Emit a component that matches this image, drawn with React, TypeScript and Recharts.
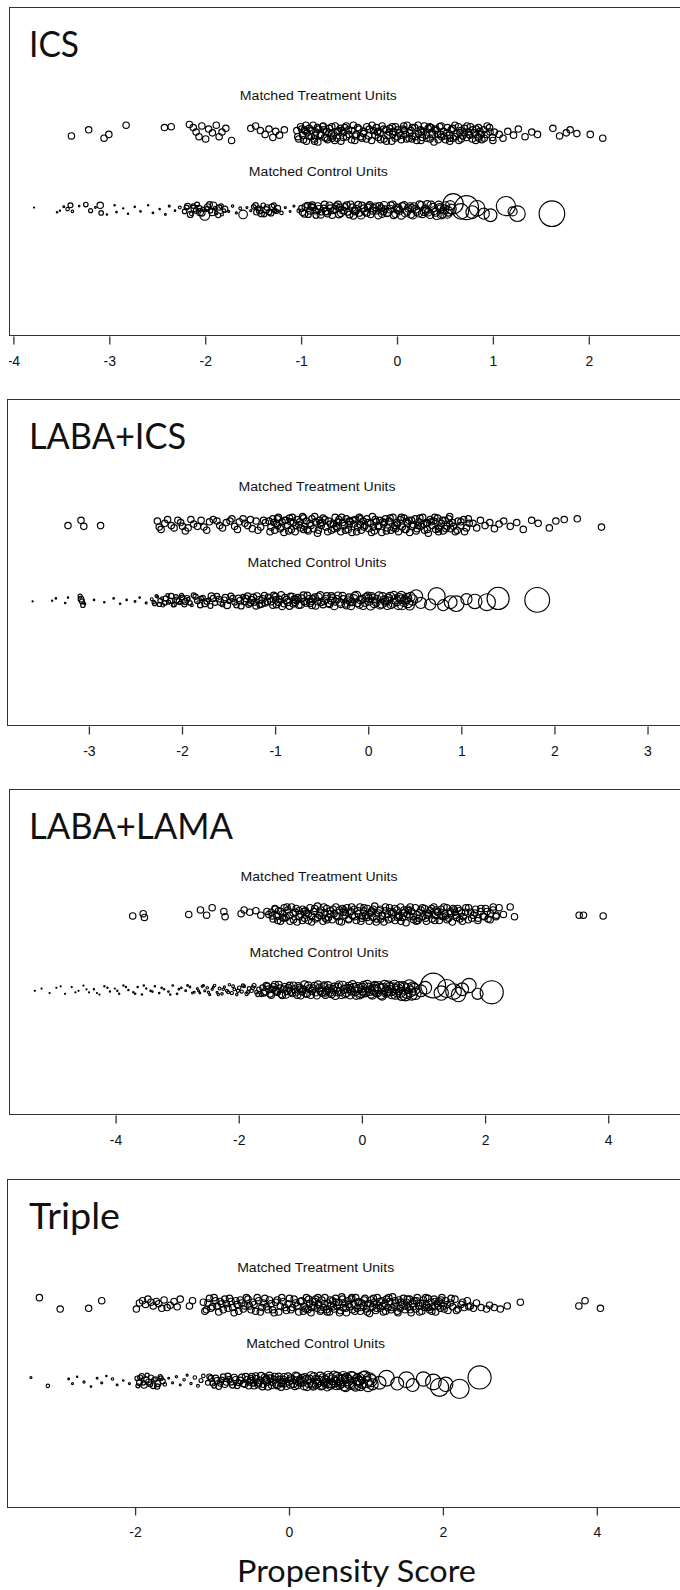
import { ScatterChart, Scatter, XAxis, YAxis, ReferenceDot } from 'recharts';

// [propensity score, vertical jitter (hundredths)] for treated; control also carries its matching weight
type Pt = [number, number];
type WPt = [number, number, number];

const icsTreated: Pt[] = [
  [-3.40,-3],[-3.22,5],[-3.06,-6],[-3.01,-1],[-2.83,11],[-2.43,8],[-2.36,9],
  [-2.17,12],[-2.13,8],[-2.10,2],[-2.07,-4],[-2.04,10],[-2.00,-7],[-1.97,6],[-1.93,1],[-1.89,11],[-1.86,-4],[-1.83,2],[-1.79,7],[-1.73,-9],
  [-1.53,7],[-1.48,10],[-1.43,4],[-1.38,-1],[-1.34,6],[-1.30,-5],[-1.27,3],[-1.23,-2],[-1.18,5],
  [-1.05,4],[-1.03,-7],[-1.01,9],[-0.99,-2],[-0.97,5],[-0.95,-10],[-0.94,1],[-0.92,7],[-0.90,-4],[-0.88,11],[-0.87,-7],[-0.85,2],[-0.83,-11],[-0.82,6],[-0.80,-1],[-0.78,9],[-0.76,-5],[-0.74,3],[-0.73,-8],[-0.71,7],[-0.69,0],[-0.67,-3],[-0.65,10],[-0.63,-6],[-0.61,4],[-0.59,-10],[-0.57,1],[-0.55,8],[-0.53,-4],[-0.51,5],[-0.48,-8],[-0.46,11],[-0.43,-1],[-0.40,6],[-0.37,-6],[-0.35,3],[-0.32,9],[-0.30,-3],[-0.27,-9],[-0.25,4],[-0.22,8],[-0.20,-5],[-0.18,1],[-0.16,10],[-0.14,-7],[-0.12,5],[-0.10,-2],[-0.08,7],[-0.06,-10],[-0.04,3],[-0.02,9],
  [0.00,-4],[0.02,1],[0.04,-8],[0.06,6],[0.08,-1],[0.10,11],[0.12,-6],[0.14,4],[0.16,-3],[0.18,8],[0.20,-9],[0.22,0],[0.24,5],[0.26,-5],[0.28,10],[0.30,-2],[0.32,7],[0.34,-7],[0.36,2],[0.38,-11],[0.40,6],[0.42,-1],[0.44,9],[0.46,-4],[0.48,3],[0.50,-8],[0.52,8],[0.54,-2],[0.56,5],[0.58,-6],[0.60,11],[0.62,0],[0.64,-9],[0.66,4],[0.68,-3],[0.70,7],[0.72,-5],[0.74,2],[0.76,9],[0.78,-7],[0.80,1],[0.82,6],[0.84,-4],[0.86,3],[0.88,-8],[0.90,5],[0.93,-1],[0.96,8],[0.99,-5],[1.01,2],
  [-0.96,3],[-0.86,-2],[-0.77,5],[-0.68,-6],[-0.58,4],[-0.44,-3],[-0.21,2],[-0.05,-1],[0.07,4],[0.15,-7],[0.25,2],[0.35,8],[0.45,-1],[0.55,-6],[0.65,1],[0.75,-1],[0.85,-6],
  [-1.04,-4],[-1.00,6],[-0.98,-8],[-0.955,11],[-0.925,-3],[-0.895,4],[-0.865,-10],[-0.835,8],[-0.805,-2],[-0.775,10],[-0.745,-6],[-0.715,1],[-0.685,9],[-0.655,-9],[-0.625,3],[-0.595,7],[-0.565,-5],[-0.535,10],[-0.505,-1],[-0.475,4],[-0.445,-9],[-0.415,8],[-0.385,-4],[-0.355,0],[-0.325,-7],[-0.295,6],[-0.265,11],[-0.235,-2],[-0.205,3],[-0.175,-8],[-0.145,6],[-0.115,-10],[-0.085,2],[-0.055,9],[-0.025,-6],
  [0.005,5],[0.035,-2],[0.065,10],[0.095,-7],[0.125,1],[0.155,8],[0.185,-4],[0.215,11],[0.245,-9],[0.275,3],[0.305,-6],[0.335,9],[0.365,-1],[0.395,4],[0.425,-8],[0.455,10],[0.485,-3],[0.515,1],[0.545,-10],[0.575,7],[0.605,-4],[0.635,9],[0.665,-7],[0.695,1],[0.725,10],[0.755,-2],[0.785,5],[0.815,-9],[0.845,8],[0.875,-1],[0.905,-6],[0.935,10],[0.965,2],[0.995,-9],
  [1.06,-1],[1.10,-6],[1.15,3],[1.21,-2],[1.26,6],[1.33,-4],[1.40,2],[1.46,-1],[1.62,7],[1.69,-3],[1.76,1],[1.80,5],[1.87,0],[2.01,-1],[2.14,-6],
];

const icsControl: WPt[] = [
  [-3.79,3,0.03],[-3.55,-3,0.05],[-3.52,-1,0.04],[-3.48,4,0.08],[-3.44,1,0.3],[-3.41,6,0.6],[-3.39,-2,0.15],[-3.32,5,0.06],[-3.25,7,0.5],[-3.20,-1,0.4],[-3.15,3,0.08],[-3.10,6,1.0],[-3.09,-4,0.5],[-3.03,-6,0.05],[-2.95,6,0.05],[-2.93,-3,0.06],[-2.86,2,0.04],[-2.81,-5,0.05],[-2.74,4,0.05],[-2.68,-2,0.06],[-2.60,6,0.05],[-2.55,-4,0.07],[-2.48,1,0.05],[-2.42,-6,0.08],[-2.38,5,0.1],[-2.32,-1,0.06],[-2.27,3,0.2],
  [-2.22,-2,0.5],[-2.19,5,0.8],[-2.15,-5,0.3],[-2.12,2,1.0],[-2.09,7,0.6],[-2.06,-3,1.2],[-2.03,1,0.4],[-2.01,-7,2.5],[-1.98,4,0.9],[-1.95,-1,0.5],[-1.92,6,1.1],[-1.89,-4,0.3],[-1.86,3,0.7],[-1.83,-6,0.2],[-1.80,1,0.9],[-1.76,-2,0.1],[-1.72,5,0.15],[-1.68,-4,0.1],[-1.64,2,0.2],[-1.61,-6,1.8],
  [-2.20,3,0.6],[-2.16,-6,0.9],[-2.13,5,0.5],[-2.10,-1,0.7],[-2.07,2,0.9],[-2.04,-4,1.0],[-1.99,1,0.6],[-1.96,7,0.8],[-1.93,-3,1.2],[-1.90,2,0.4],[-1.87,-7,0.6],[-1.84,5,0.5],[-1.81,-1,0.3],
  [-1.57,3,0.1],[-1.53,-1,0.1],[-1.50,4,0.5],[-1.47,-3,0.8],[-1.45,2,0.6],[-1.42,-5,0.9],[-1.40,6,0.5],[-1.37,0,1.0],[-1.34,-3,0.7],[-1.31,4,0.8],[-1.28,-1,0.5],[-1.25,2,0.9],[-1.21,-4,0.3],[-1.17,3,0.1],[-1.12,-2,0.08],[-1.08,5,0.1],[-1.03,-1,0.3],
  [-1.48,6,0.7],[-1.44,-1,0.9],[-1.39,-6,0.6],[-1.36,3,0.8],[-1.32,-4,0.9],[-1.29,6,0.6],[-1.26,-2,0.4],
  [-1.00,2,0.9],[-0.97,-5,1.1],[-0.94,6,0.8],[-0.91,-1,1.2],[-0.88,3,1.0],[-0.85,-7,0.9],[-0.82,1,1.3],[-0.79,-3,0.8],[-0.76,7,1.1],[-0.73,-5,1.0],[-0.70,2,1.2],[-0.67,-1,0.9],[-0.64,5,1.0],[-0.61,-6,1.1],[-0.58,0,1.3],[-0.55,4,1.0],[-0.52,-3,0.9],[-0.49,7,1.2],[-0.46,-8,1.0],[-0.43,1,1.4],[-0.40,-4,1.1],[-0.37,6,1.0],[-0.34,-2,1.3],[-0.31,3,1.2],[-0.28,-6,1.0],[-0.25,2,1.4],[-0.22,-1,1.1],[-0.19,5,1.2],[-0.16,-5,1.3],[-0.13,1,1.0],[-0.10,-3,1.5],[-0.07,6,1.2],[-0.04,-7,1.1],[-0.01,3,1.4],
  [0.02,-1,1.3],[0.05,5,1.2],[0.08,-4,1.5],[0.11,2,1.3],[0.14,-6,1.2],[0.17,4,1.6],[0.20,-2,1.4],[0.23,7,1.3],[0.26,-5,1.5],[0.29,1,1.6],[0.32,-3,1.4],[0.35,6,1.7],[0.38,-1,1.5],[0.41,-7,1.8],[0.44,3,1.6],[0.47,-4,2.0],[0.50,5,1.8],[0.53,-2,2.2],[0.56,1,2.5],
  [-0.90,4,1.0],[-0.75,-2,1.0],[-0.60,3,1.2],[-0.45,-1,1.0],[-0.30,5,1.1],[-0.15,-2,1.2],[0.00,0,1.3],[0.15,2,1.4],[0.30,-1,1.5],[0.45,1,1.7],
  [-0.99,-3,1.0],[-0.96,4,1.1],[-0.93,-6,0.9],[-0.89,6,1.2],[-0.86,-1,1.0],[-0.83,5,1.1],[-0.80,-6,1.3],[-0.77,2,1.0],[-0.74,-2,1.2],[-0.71,6,1.1],[-0.68,-7,1.0],[-0.65,1,1.2],[-0.62,7,1.1],[-0.59,-4,1.3],[-0.56,-1,1.0],[-0.53,6,1.2],[-0.50,-6,1.1],[-0.47,3,1.3],[-0.44,-2,1.2],[-0.41,7,1.0],[-0.38,-7,1.4],[-0.35,2,1.2],[-0.32,-4,1.1],[-0.29,6,1.3],[-0.26,-1,1.2],[-0.23,4,1.4],[-0.20,-7,1.3],[-0.17,2,1.2],[-0.14,6,1.4],[-0.11,-4,1.3],[-0.08,1,1.5],[-0.05,7,1.2],[-0.02,-5,1.4],
  [0.01,2,1.3],[0.04,-7,1.5],[0.07,6,1.3],[0.10,-2,1.4],[0.13,4,1.6],[0.16,-7,1.4],[0.19,1,1.5],[0.22,-4,1.6],[0.25,6,1.4],[0.28,-2,1.7],[0.31,7,1.5],[0.34,-6,1.6],[0.37,3,1.8],[0.40,-3,1.6],[0.43,6,1.7],[0.46,-6,1.9],[0.49,1,1.8],[0.52,-5,2.0],[0.55,6,2.1],
  [0.58,8,10],[0.66,-2,6],[0.72,3,14],[0.78,-3,4],[0.83,2,6],[0.90,-5,3],[0.97,-7,4],[1.13,5,9],[1.20,-2,2],[1.25,-5,6],[1.61,-5,16],
];

const labaIcsTreated: Pt[] = [
  [-3.23,-1],[-3.09,6],[-3.06,-2],[-2.88,-1],
  [-2.27,5],[-2.25,-3],[-2.19,2],[-2.12,-1],[-2.05,6],[-2.00,-2],[-1.94,-4],[-1.88,1],[-1.80,6],[-1.77,-3],[-1.71,4],[-1.67,7],[-1.60,-1],[-1.53,3],[-1.49,5],[-1.44,-2],[-1.39,4],[-1.35,8],[-1.30,-1],[-1.25,-5],[-1.21,5],[-1.16,-3],[-1.11,3],
  [-2.23,-6],[-2.16,7],[-2.09,-4],[-2.02,3],[-1.97,-8],[-1.91,7],[-1.84,-2],[-1.74,-7],[-1.63,5],[-1.57,-4],[-1.47,8],[-1.41,-6],[-1.33,2],[-1.27,7],[-1.19,-7],[-1.13,6],
  [-1.07,5],[-1.05,-3],[-1.03,8],[-1.01,-7],[-0.99,2],[-0.97,10],[-0.95,-5],[-0.93,4],[-0.91,-10],[-0.89,6],[-0.87,-1],[-0.85,9],[-0.83,-6],[-0.81,3],[-0.79,-9],[-0.77,7],[-0.75,0],[-0.73,-4],[-0.71,11],[-0.69,-2],[-0.67,5],[-0.65,-8],[-0.63,2],[-0.61,8],[-0.59,-5],[-0.57,4],[-0.55,-11],[-0.53,6],[-0.51,-1],[-0.49,9],[-0.46,-3],[-0.43,5],[-0.40,-7],[-0.38,1],[-0.36,10],[-0.34,-4],[-0.32,7],[-0.30,-9],[-0.28,3],[-0.26,-1],[-0.24,8],[-0.22,-6],[-0.20,4],[-0.18,-10],[-0.16,1],[-0.14,7],[-0.12,-3],[-0.10,10],[-0.08,-7],[-0.06,5],[-0.04,-1],[-0.02,8],
  [0.00,-5],[0.02,2],[0.04,11],[0.06,-8],[0.08,4],[0.10,-2],[0.12,6],[0.14,-10],[0.16,1],[0.18,8],[0.20,-4],[0.22,5],[0.24,-7],[0.26,10],[0.28,-1],[0.30,3],[0.32,-9],[0.34,7],[0.36,-3],[0.38,9],[0.40,-6],[0.42,2],[0.44,-10],[0.46,6],[0.48,0],[0.50,8],[0.52,-5],[0.54,4],[0.56,-2],[0.58,10],[0.60,-7],[0.62,3],[0.64,-11],[0.66,7],[0.68,-1],[0.70,5],[0.72,-6],[0.74,9],[0.76,-3],[0.78,2],[0.80,-8],[0.82,6],[0.84,-2],[0.86,8],[0.88,-5],[0.90,3],[0.93,-9],[0.96,5],[0.99,-1],[1.02,7],[1.05,-4],[1.08,2],
  [-0.98,-1],[-0.84,4],[-0.70,-6],[-0.52,2],[-0.35,-2],[-0.21,5],[-0.09,0],[0.05,-3],[0.17,3],[0.29,-5],[0.41,4],[0.53,-1],[0.63,2],[0.75,-5],[0.87,1],
  [-1.06,-9],[-1.02,3],[-0.98,8],[-0.94,-3],[-0.90,6],[-0.86,-8],[-0.82,10],[-0.78,-1],[-0.74,4],[-0.70,9],[-0.66,-6],[-0.62,-1],[-0.58,11],[-0.54,-7],[-0.50,3],[-0.47,7],[-0.44,-9],[-0.41,1],[-0.37,-5],[-0.33,4],[-0.29,10],[-0.25,-7],[-0.21,0],[-0.17,6],[-0.13,-9],[-0.09,8],[-0.05,-3],[-0.01,3],
  [0.03,-10],[0.07,7],[0.11,-1],[0.15,4],[0.19,-8],[0.23,9],[0.27,-4],[0.31,1],[0.35,10],[0.39,-6],[0.43,6],[0.47,-2],[0.51,-8],[0.55,9],[0.59,1],[0.63,-6],[0.67,4],[0.71,10],[0.75,-9],[0.79,6],[0.83,-5],[0.87,11],[0.91,-2],[0.95,-7],[0.99,4],[1.03,-9],[1.07,8],
  [1.12,2],[1.16,-4],[1.20,6],[1.25,-1],[1.30,3],[1.35,-5],[1.40,1],[1.45,5],[1.52,-2],[1.59,3],[1.66,-6],[1.75,6],[1.82,2],[1.94,-4],[2.01,5],[2.10,7],[2.24,8],[2.50,-3],
];

const labaIcsControl: WPt[] = [
  [-3.61,-1,0.03],[-3.40,0,0.04],[-3.36,3,0.05],[-3.26,-3,0.05],[-3.23,4,0.05],[-3.10,6,0.4],[-3.09,2,0.8],[-3.08,-1,0.6],[-3.07,-6,0.5],[-3.05,-4,0.1],[-2.95,1,0.05],[-2.84,-2,0.05],[-2.74,3,0.06],[-2.67,-4,0.05],[-2.60,1,0.06],[-2.51,-1,0.08],[-2.46,4,0.06],[-2.39,-3,0.1],
  [-2.33,2,0.2],[-2.30,-4,0.4],[-2.27,5,0.15],[-2.24,0,0.5],[-2.21,-6,0.3],[-2.18,3,0.6],[-2.15,-2,0.4],[-2.12,6,0.7],[-2.09,-5,0.5],[-2.06,1,0.8],[-2.03,-3,0.3],[-2.00,4,0.6],[-1.97,-1,0.9],[-1.94,2,0.3],[-1.90,-6,0.2],[-1.86,5,0.7],[-1.83,-2,0.2],[-1.80,3,0.5],[-1.76,-4,0.9],[-1.72,1,0.4],[-1.69,6,1.0],[-1.65,-3,0.6],[-1.61,2,0.8],[-1.57,-5,0.5],[-1.54,4,1.0],[-1.50,-1,0.4],[-1.46,3,0.9],[-1.42,-6,0.7],[-1.38,0,1.1],[-1.35,5,0.6],
  [-2.31,-2,0.3],[-2.28,6,0.2],[-2.25,-5,0.4],[-2.22,3,0.2],[-2.19,-3,0.5],[-2.16,7,0.3],[-2.13,0,0.6],[-2.10,-6,0.3],[-2.07,5,0.5],[-2.04,-1,0.7],[-2.01,7,0.4],[-1.98,-5,0.6],[-1.95,3,0.8],[-1.92,-3,0.5],[-1.88,7,0.6],[-1.84,0,0.8],[-1.81,-6,0.7],[-1.78,4,0.5],[-1.74,-1,0.8],[-1.70,-7,0.6],[-1.67,3,0.9],[-1.63,6,0.7],[-1.59,-2,1.0],[-1.55,1,0.8],[-1.52,-6,1.1],[-1.48,6,0.9],[-1.44,-2,0.8],[-1.40,3,1.0],[-1.37,-7,0.9],[-1.33,-1,1.1],
  [-1.32,3,1.0],[-1.29,-5,0.8],[-1.26,1,1.2],[-1.23,-2,0.9],[-1.20,6,1.1],[-1.17,-6,0.7],[-1.14,2,1.3],[-1.11,-3,1.0],[-1.08,5,0.8],[-1.05,-1,1.2],[-1.02,7,1.0],[-0.99,-5,1.1],[-0.96,2,0.9],[-0.93,-7,1.3],[-0.90,4,1.0],[-0.87,-2,1.2],[-0.84,6,0.9],[-0.81,-4,1.1],[-0.78,1,1.4],[-0.75,-6,1.0],[-0.72,3,1.2],[-0.69,-1,1.1],[-0.66,7,1.0],[-0.63,-3,1.3],[-0.60,2,1.2],[-0.57,-7,1.0],[-0.54,5,1.4],[-0.51,-2,1.1],[-0.48,0,1.3],[-0.45,6,1.2],[-0.42,-5,1.0],[-0.39,3,1.4],[-0.36,-1,1.3],[-0.33,7,1.1],[-0.30,-4,1.5],[-0.27,2,1.2],[-0.24,-6,1.3],[-0.21,4,1.4],[-0.18,-2,1.2],[-0.15,6,1.5],[-0.12,-3,1.3],[-0.09,1,1.4],[-0.06,-7,1.2],[-0.03,4,1.6],
  [0.00,-1,1.4],[0.03,6,1.3],[0.06,-4,1.6],[0.09,2,1.5],[0.12,-6,1.4],[0.15,5,1.7],[0.18,-2,1.5],[0.21,3,1.8],[0.24,-5,1.6],[0.27,7,1.5],[0.30,-1,1.9],[0.33,4,1.7],[0.36,-6,2.0],[0.39,1,1.8],[0.42,-3,2.2],[0.45,5,2.0],
  [-1.00,1,1.0],[-0.80,2,1.0],[-0.62,-1,1.1],[-0.40,0,1.2],[-0.20,-1,1.3],[0.00,3,1.4],[0.20,0,1.5],[0.35,2,1.7],
  [-1.30,6,1.0],[-1.27,-3,0.9],[-1.24,4,1.2],[-1.21,-7,1.0],[-1.18,1,1.1],[-1.15,-4,1.2],[-1.12,7,0.9],[-1.09,-1,1.1],[-1.06,3,1.3],[-1.03,-6,1.0],[-1.00,5,1.2],[-0.97,-2,1.1],[-0.94,7,1.3],[-0.91,-4,1.0],[-0.88,1,1.2],[-0.85,-7,1.1],[-0.82,5,1.3],[-0.79,-2,1.2],[-0.76,4,1.0],[-0.73,-5,1.4],[-0.70,7,1.2],[-0.67,-3,1.1],[-0.64,2,1.3],[-0.61,-6,1.2],[-0.58,4,1.4],[-0.55,-1,1.2],[-0.52,7,1.3],[-0.49,-5,1.1],[-0.46,2,1.5],[-0.43,-3,1.3],[-0.40,6,1.2],[-0.37,-7,1.4],[-0.34,2,1.3],[-0.31,-2,1.5],[-0.28,6,1.4],[-0.25,-4,1.2],[-0.22,1,1.5],[-0.19,-7,1.3],[-0.16,3,1.4],[-0.13,7,1.6],[-0.10,-5,1.4],[-0.07,2,1.5],[-0.04,-2,1.7],[-0.01,6,1.5],
  [0.02,-7,1.6],[0.05,3,1.8],[0.08,-2,1.6],[0.11,6,1.7],[0.14,-4,1.9],[0.17,1,1.7],[0.20,-6,1.8],[0.23,5,2.0],[0.26,-3,1.8],[0.29,2,2.1],[0.32,-6,1.9],[0.35,6,2.2],[0.38,-2,2.0],[0.41,3,2.4],[0.44,-6,2.2],[0.47,1,2.6],
  [0.51,6,4],[0.56,-3,3],[0.66,-5,3],[0.73,6,7],[0.80,-6,3],[0.88,-2,4],[0.94,-4,6],[1.05,2,3],[1.14,-1,5],[1.27,-2,7],[1.39,3,12],[1.81,1,15],
];

const labaLamaTreated: Pt[] = [
  [-3.73,-2],[-3.56,1],[-3.54,-4],[-2.82,0],[-2.63,6],[-2.53,-1],[-2.44,9],[-2.25,4],[-2.23,-3],[-1.97,1],[-1.92,6],[-1.83,3],[-1.73,5],[-1.65,-1],[-1.55,4],[-1.52,0],
  [-1.48,3],[-1.45,-6],[-1.42,8],[-1.39,-2],[-1.36,5],[-1.33,-9],[-1.30,1],[-1.27,9],[-1.24,-4],[-1.21,6],[-1.18,-1],[-1.15,10],[-1.12,-7],[-1.09,3],[-1.06,-10],[-1.03,5],[-1.00,0],[-0.97,7],[-0.94,-5],[-0.91,2],[-0.88,-8],[-0.85,9],[-0.82,-2],[-0.79,4],[-0.76,-6],[-0.73,11],[-0.70,-1],[-0.67,6],[-0.64,-9],[-0.61,2],[-0.58,8],[-0.55,-4],[-0.52,5],[-0.49,-7],[-0.46,1],[-0.43,10],[-0.40,-3],[-0.37,6],[-0.34,-10],[-0.31,3],[-0.28,-1],[-0.25,9],[-0.22,-6],[-0.19,4],[-0.16,-2],[-0.13,7],[-0.10,-8],[-0.07,1],[-0.04,10],[-0.01,-5],
  [0.02,5],[0.05,-1],[0.08,8],[0.11,-9],[0.14,3],[0.17,-4],[0.20,11],[0.23,-6],[0.26,2],[0.29,7],[0.32,-2],[0.35,-10],[0.38,5],[0.41,0],[0.44,9],[0.47,-5],[0.50,3],[0.53,-8],[0.56,6],[0.59,-1],[0.62,10],[0.65,-4],[0.68,2],[0.71,-11],[0.74,7],[0.77,-2],[0.80,4],[0.83,-7],[0.86,9],[0.89,0],[0.92,-5],[0.95,6],[0.98,-3],[1.01,8],[1.04,-9],[1.07,2],[1.10,5],[1.13,-6],[1.16,10],[1.19,-1],[1.22,3],[1.25,-8],[1.28,7],[1.31,-3],[1.34,1],[1.37,9],[1.40,-5],[1.43,4],[1.46,-10],[1.49,6],[1.52,-1],[1.55,8],[1.58,-6],[1.61,2],[1.64,-3],[1.68,9],[1.72,-7],[1.76,3],[1.80,-1],[1.84,7],[1.88,-5],[1.92,4],[1.96,-2],[2.00,8],[2.04,-6],[2.08,1],[2.12,6],[2.17,-3],[2.22,9],
  [-1.30,-4],[-0.95,4],[-0.60,-5],[-0.30,6],[0.00,-2],[0.15,5],[0.30,-6],[0.45,4],[0.60,-3],[0.75,5],[0.90,-8],[1.05,-1],[1.20,6],[1.35,-2],[1.50,3],
  [-1.465,-2],[-1.415,7],[-1.375,-8],[-1.325,4],[-1.275,-5],[-1.225,10],[-1.175,-9],[-1.125,2],[-1.075,8],[-1.025,-3],[-0.975,-8],[-0.925,5],[-0.875,1],[-0.825,-10],[-0.775,8],[-0.725,-4],[-0.675,2],[-0.625,10],[-0.575,-7],[-0.525,1],[-0.475,7],[-0.425,-2],[-0.375,-9],[-0.325,8],[-0.275,3],[-0.225,-7],[-0.175,10],[-0.125,-3],[-0.075,5],[-0.025,-9],
  [0.025,9],[0.075,-4],[0.125,1],[0.175,7],[0.225,-10],[0.275,5],[0.325,-1],[0.375,10],[0.425,-7],[0.475,2],[0.525,8],[0.575,-4],[0.625,-9],[0.675,6],[0.725,0],[0.775,10],[0.825,-3],[0.875,-9],[0.925,3],[0.975,9],[1.025,-5],[1.075,-1],[1.125,8],[1.175,-8],[1.225,4],[1.275,-2],[1.325,10],[1.375,-7],[1.425,1],[1.475,8],[1.525,-4],[1.575,5],[1.625,-9],[1.675,3],[1.725,9],[1.775,-5],[1.825,2],[1.875,-8],[1.925,8],[1.975,-3],[2.025,4],[2.075,-7],[2.125,10],[2.175,-1],
  [2.29,0],[2.40,10],[2.47,-3],[3.52,-1],[3.59,-1],[3.91,-2],
];

const labaLamaControl: WPt[] = [
  [-5.32,-1,0.02],[-5.21,2,0.02],[-5.08,-4,0.02],[-4.97,3,0.03],[-4.83,-5,0.02],[-4.72,4,0.03],[-4.61,-1,0.03],[-4.53,6,0.03],[-4.44,-3,0.03],[-4.36,1,0.04],[-4.27,-6,0.03],[-4.19,5,0.04],[-4.10,-2,0.04],[-4.02,2,0.03],[-3.95,-5,0.04],[-3.88,6,0.04],[-3.80,0,0.05],[-3.72,-3,0.04],[-3.65,4,0.05],[-3.58,-6,0.05],[-3.51,2,0.04],[-3.44,-1,0.06],[-3.37,5,0.05],[-3.30,-4,0.06],[-3.22,1,0.05],[-3.15,-2,0.07],[-3.08,6,0.06],[-3.01,-5,0.07],[-2.94,3,0.06],[-2.87,-1,0.08],[-2.80,4,0.07],[-2.73,-3,0.08],
  [-4.90,5,0.02],[-4.66,-3,0.03],[-4.48,1,0.03],[-4.31,-4,0.03],[-4.14,3,0.04],[-3.98,-1,0.04],[-3.84,4,0.04],[-3.69,-5,0.05],[-3.55,6,0.05],[-3.41,-2,0.06],[-3.26,3,0.06],[-3.12,-6,0.06],[-2.98,1,0.07],[-2.84,6,0.07],[-2.76,-4,0.08],
  [-2.68,2,0.1],[-2.64,-4,0.08],[-2.60,5,0.12],[-2.56,-1,0.1],[-2.52,3,0.15],[-2.48,-6,0.1],[-2.44,1,0.12],[-2.40,6,0.15],[-2.36,-3,0.1],[-2.32,2,0.2],[-2.28,-5,0.15],[-2.24,4,0.12],[-2.20,-1,0.2],[-2.16,7,0.15],[-2.12,-4,0.25],[-2.08,1,0.2],[-2.04,-6,0.15],[-2.00,3,0.3],[-1.96,-2,0.25],[-1.92,5,0.2],[-1.88,-5,0.3],[-1.84,2,0.35],[-1.80,-1,0.3],[-1.76,6,0.4],[-1.72,-3,0.35],[-1.68,1,0.5],[-1.64,-6,0.4],
  [-2.66,-1,0.1],[-2.58,6,0.1],[-2.50,-3,0.12],[-2.42,4,0.1],[-2.34,-6,0.15],[-2.26,1,0.15],[-2.18,-3,0.2],[-2.10,5,0.2],[-2.02,-1,0.25],[-1.94,6,0.25],[-1.86,-3,0.3],[-1.78,3,0.35],[-1.70,-6,0.4],
  [-1.62,3,0.8],[-1.58,-2,1.0],[-1.54,5,0.9],[-1.50,-5,1.1],[-1.46,1,1.0],[-1.42,7,1.2],[-1.38,-3,1.0],[-1.34,2,1.3],[-1.30,-7,1.1],[-1.26,4,1.2],[-1.22,-1,1.4],[-1.18,6,1.1],[-1.14,-4,1.3],[-1.10,1,1.2],[-1.06,-6,1.4],[-1.02,3,1.3],[-0.98,-2,1.2],[-0.94,7,1.5],[-0.90,-5,1.3],[-0.86,2,1.4],[-0.82,-1,1.2],[-0.78,5,1.5],[-0.74,-7,1.3],[-0.70,3,1.4],[-0.66,-3,1.6],[-0.62,6,1.3],[-0.58,-1,1.5],[-0.54,2,1.4],[-0.50,-5,1.6],[-0.46,4,1.5],[-0.42,-2,1.7],[-0.38,7,1.4],[-0.34,-6,1.6],[-0.30,1,1.5],[-0.26,-3,1.8],[-0.22,5,1.6],[-0.18,-1,1.7],[-0.14,3,1.9],[-0.10,-7,1.6],[-0.06,2,1.8],[-0.02,-4,2.0],
  [0.02,6,1.7],[0.06,-2,1.9],[0.10,3,2.1],[0.14,-5,1.8],[0.18,1,2.4],[0.22,-1,2.8],[0.26,5,2.2],[0.30,-6,2.0],[0.34,2,2.5],[0.38,-3,2.2],[0.42,6,2.0],[0.46,-1,2.6],[0.50,3,2.3],[0.54,-6,2.1],[0.58,1,2.7],[0.62,-3,2.4],[0.66,5,2.2],[0.70,-7,3.0],[0.74,2,2.5],[0.78,-2,2.8],[0.82,4,2.6],[0.86,-5,3.2],
  [-1.40,0,1.0],[-1.00,1,1.2],[-0.60,-3,1.4],[-0.20,2,1.6],[0.00,-1,1.8],[0.20,4,2.0],[0.40,-2,2.2],
  [-1.60,-4,0.9],[-1.56,6,1.0],[-1.52,1,1.1],[-1.48,-7,1.0],[-1.44,4,1.2],[-1.40,-2,1.1],[-1.36,7,1.2],[-1.32,-5,1.3],[-1.28,1,1.1],[-1.24,-6,1.3],[-1.20,3,1.2],[-1.16,-2,1.4],[-1.12,6,1.2],[-1.08,-3,1.3],[-1.04,5,1.4],[-1.00,-7,1.3],[-0.96,1,1.2],[-0.92,-4,1.4],[-0.88,6,1.3],[-0.84,-6,1.5],[-0.80,2,1.4],[-0.76,-3,1.3],[-0.72,7,1.5],[-0.68,-1,1.4],[-0.64,4,1.6],[-0.60,-6,1.4],[-0.56,6,1.5],[-0.52,-3,1.6],[-0.48,1,1.5],[-0.44,-7,1.7],[-0.40,4,1.5],[-0.36,-2,1.6],[-0.32,6,1.8],[-0.28,-5,1.6],[-0.24,2,1.7],[-0.20,-6,1.9],[-0.16,7,1.7],[-0.12,-2,1.8],[-0.08,4,2.0],[-0.04,-6,1.8],
  [0.00,3,1.9],[0.04,-3,2.1],[0.08,7,1.9],[0.12,-1,2.2],[0.16,-6,2.0],[0.20,5,2.3],[0.24,-3,2.1],[0.28,2,2.4],[0.32,-7,2.2],[0.36,6,2.5],[0.40,-1,2.3],[0.44,3,2.6],[0.48,-5,2.4],[0.52,6,2.7],[0.56,-2,2.5],[0.60,4,2.8],[0.64,-7,2.6],[0.68,2,3.0],[0.72,-4,2.8],[0.76,6,3.2],[0.80,-6,3.0],[0.84,1,3.4],
  [0.95,-1,3.5],[1.02,3,4],[1.15,6,15],[1.28,-4,5],[1.37,2,8],[1.48,-2,6],[1.56,-6,5],[1.62,1,4],[1.73,6,5],[1.87,-5,3],[2.10,-3,13],
];

const tripleTreated: Pt[] = [
  [-3.25,10],[-2.98,-5],[-2.61,-4],[-2.44,6],
  [-1.99,-5],[-1.95,3],[-1.91,6],[-1.87,1],[-1.84,8],[-1.80,4],[-1.77,-1],[-1.73,5],[-1.70,2],[-1.66,-4],[-1.63,7],[-1.59,-3],[-1.55,0],[-1.50,5],[-1.46,-2],[-1.42,8],[-1.30,-1],[-1.26,6],
  [-1.12,4],[-1.08,-6],[-1.04,9],[-1.00,-2],[-0.96,6],[-0.92,-9],[-0.88,2],[-0.84,8],[-0.80,-4],[-0.76,5],[-0.72,-10],[-0.68,1],[-0.64,7],[-0.60,-5],[-0.56,10],[-0.52,-1],[-0.48,4],[-0.44,-8],[-0.40,6],[-0.36,-3],[-0.32,9],[-0.28,-6],[-0.24,2],[-0.20,-10],[-0.16,7],[-0.12,-1],[-0.08,5],[-0.04,-7],[0.00,9],[0.04,-3],[0.08,3],[0.12,-9],[0.16,6],[0.20,-2],
  [-1.10,-8],[-1.06,3],[-1.02,-4],[-0.98,10],[-0.94,-1],[-0.90,5],[-0.86,-6],[-0.82,2],[-0.78,9],[-0.74,-3],[-0.70,6],[-0.66,-8],[-0.62,3],[-0.58,-1],[-0.54,8],[-0.50,-6],[-0.46,1],[-0.42,10],[-0.38,-9],[-0.34,3],[-0.30,-2],[-0.26,7],[-0.22,-6],[-0.18,4],[-0.14,-9],[-0.10,10],[-0.06,-3],[-0.02,2],[0.02,-6],[0.06,8],[0.10,-1],[0.14,5],[0.18,-8],
  [0.22,10],[0.24,-6],[0.26,2],[0.28,-10],[0.30,5],[0.32,-1],[0.34,8],[0.36,-4],[0.38,1],[0.40,-8],[0.42,7],[0.44,-3],[0.46,10],[0.48,-6],[0.50,3],[0.52,-9],[0.54,0],[0.56,6],[0.58,-5],[0.60,9],[0.62,-1],[0.64,4],[0.66,-7],[0.68,11],[0.70,-3],[0.72,2],[0.74,-10],[0.76,6],[0.78,-2],[0.80,8],[0.82,-6],[0.84,1],[0.86,10],[0.88,-4],[0.90,5],[0.92,-8],[0.94,3],[0.96,-1],[0.98,9],[1.00,-5],
  [1.02,2],[1.04,-11],[1.06,7],[1.08,-2],[1.10,4],[1.12,-7],[1.14,10],[1.16,0],[1.18,-4],[1.20,6],[1.22,-9],[1.24,2],[1.26,8],[1.28,-3],[1.30,5],[1.32,-6],[1.34,11],[1.36,-1],[1.38,3],[1.40,-8],[1.42,7],[1.44,-4],[1.46,1],[1.48,9],[1.50,-6],[1.52,4],[1.54,-2],[1.56,8],[1.58,-10],[1.60,2],[1.62,6],[1.64,-5],[1.66,10],[1.68,-1],[1.70,3],[1.72,-8],[1.74,7],[1.76,-3],[1.78,0],[1.80,9],[1.82,-6],[1.84,4],[1.86,-2],[1.88,8],[1.90,-9],[1.92,2],[1.94,5],[1.96,-4],[1.98,10],
  [0.21,-5],[0.25,8],[0.29,-3],[0.33,5],[0.37,10],[0.41,-6],[0.45,2],[0.49,-9],[0.53,7],[0.57,-2],[0.61,4],[0.65,-10],[0.69,8],[0.73,-4],[0.77,1],[0.81,10],[0.85,-8],[0.89,4],[0.93,-3],[0.97,7],[1.01,-9],[1.05,2],[1.09,9],[1.13,-4],[1.17,5],[1.21,-1],[1.25,-8],[1.29,10],[1.33,-3],[1.37,6],[1.41,-10],[1.45,4],[1.49,-1],[1.53,8],[1.57,-6],[1.61,-2],[1.65,6],[1.69,-9],[1.73,2],[1.77,10],[1.81,-3],[1.85,-8],[1.89,5],[1.93,-1],[1.97,7],[2.01,-5],[2.05,1],[2.10,9],[2.17,-7],[2.25,4],[2.33,-2],
  [2.00,-1],[2.03,6],[2.06,-7],[2.09,3],[2.12,-2],[2.15,8],[2.19,-5],[2.23,1],[2.27,-3],[2.31,6],[2.35,-1],[2.39,-4],[2.43,3],
  [2.49,-3],[2.56,-5],[2.60,0],[2.66,-3],[2.74,-5],[2.83,-1],[3.00,4],[3.76,-1],[3.84,6],[4.04,-4],
];

const tripleControl: WPt[] = [
  [-3.36,5,0.1],[-3.14,-6,0.3],[-2.87,3,0.08],[-2.82,-3,0.1],[-2.76,6,0.05],[-2.67,-1,0.12],[-2.58,-7,0.06],[-2.50,4,0.08],[-2.44,-2,0.1],[-2.38,7,0.05],[-2.30,3,0.15],[-2.24,-5,0.08],[-2.16,1,0.06],[-2.08,-3,0.1],
  [-1.98,4,0.5],[-1.95,-2,0.8],[-1.92,7,0.6],[-1.89,-5,1.0],[-1.86,2,0.7],[-1.83,-1,0.9],[-1.80,5,0.6],[-1.77,-6,0.8],[-1.74,3,0.5],[-1.71,-3,0.9],[-1.68,6,0.4],[-1.65,0,0.7],[-1.62,-4,0.3],
  [-1.97,-6,0.4],[-1.94,5,0.6],[-1.90,-2,0.5],[-1.85,8,0.4],[-1.81,-4,0.6],[-1.76,2,0.5],[-1.72,-7,0.7],[-1.67,4,0.5],
  [-1.57,4,0.08],[-1.52,-2,0.1],[-1.47,6,0.12],[-1.42,-5,0.08],[-1.37,2,0.15],[-1.33,8,0.1],[-1.28,-3,0.12],[-1.23,5,0.3],[-1.19,-6,0.2],[-1.15,1,0.4],[-1.12,7,0.3],
  [-1.06,-2,0.6],[-1.02,4,0.8],[-0.98,-6,0.5],[-0.94,1,0.9],[-0.90,-3,0.7],[-0.86,6,0.8],[-0.82,-1,1.0],[-0.78,3,0.7],[-0.74,-5,0.9],[-0.70,2,1.0],[-0.66,-2,0.8],[-0.62,5,1.1],
  [-1.04,6,0.7],[-1.00,-3,0.6],[-0.96,4,0.9],[-0.92,-7,0.8],[-0.88,2,0.7],[-0.84,-4,1.0],[-0.80,7,0.8],[-0.76,-1,0.9],[-0.72,5,1.0],[-0.68,-6,0.8],[-0.64,1,1.1],[-0.60,-3,1.0],
  [-0.58,-4,1.0],[-0.55,2,1.2],[-0.52,-1,0.9],[-0.49,6,1.1],[-0.46,-6,1.0],[-0.43,3,1.3],[-0.40,-2,1.1],[-0.37,7,1.2],[-0.34,-4,1.0],[-0.31,1,1.4],[-0.28,-7,1.2],[-0.25,4,1.1],[-0.22,-1,1.3],[-0.19,6,1.2],[-0.16,-5,1.4],[-0.13,2,1.3],[-0.10,-3,1.1],[-0.07,5,1.5],[-0.04,-6,1.3],[-0.01,0,1.4],
  [0.02,4,1.2],[0.05,-3,1.6],[0.08,7,1.4],[0.11,-5,1.3],[0.14,2,1.5],[0.17,-1,1.7],[0.20,5,1.4],[0.23,-7,1.6],[0.26,3,1.5],[0.29,-2,1.8],[0.32,6,1.6],[0.35,-4,1.7],[0.38,1,1.9],[0.41,-6,1.7],[0.44,4,2.0],[0.47,-2,1.8],[0.50,7,2.2],[0.53,-5,1.9],[0.56,2,2.4],[0.59,-1,2.1],[0.62,5,2.6],[0.65,-4,2.2],[0.68,1,2.8],[0.71,-6,2.4],[0.74,4,2.5],[0.77,-2,3.0],[0.80,6,2.6],[0.84,-3,3.2],[0.88,2,2.8],[0.92,-5,3.0],[0.96,5,3.5],[1.00,-1,3.2],[1.04,3,3.8],[1.08,-4,3.0],
  [-0.50,1,1.0],[-0.30,3,1.1],[-0.10,-1,1.3],[0.10,1,1.4],[0.30,-5,1.6],[0.50,-3,1.8],[0.70,3,2.2],[0.90,0,2.6],
  [-0.57,6,1.1],[-0.53,-6,1.0],[-0.50,3,1.2],[-0.47,-2,1.1],[-0.44,7,1.0],[-0.41,-4,1.3],[-0.38,1,1.2],[-0.35,-7,1.1],[-0.32,5,1.3],[-0.29,-1,1.2],[-0.26,7,1.4],[-0.23,-5,1.2],[-0.20,2,1.3],[-0.17,-3,1.5],[-0.14,6,1.3],[-0.11,-7,1.4],[-0.08,2,1.3],[-0.05,-2,1.5],[-0.02,6,1.4],
  [0.01,-4,1.5],[0.04,2,1.6],[0.07,-6,1.4],[0.10,6,1.5],[0.13,-1,1.7],[0.16,4,1.5],[0.19,-6,1.6],[0.22,2,1.8],[0.25,-3,1.6],[0.28,7,1.7],[0.31,-6,1.9],[0.34,2,1.7],[0.37,-2,1.8],[0.40,6,2.0],[0.43,-5,1.8],[0.46,1,2.1],[0.49,-7,1.9],[0.52,4,2.2],[0.55,-3,2.0],[0.58,7,2.3],[0.61,-5,2.1],[0.64,2,2.5],[0.67,-2,2.3],[0.70,6,2.6],[0.73,-7,2.4],[0.76,1,2.8],[0.79,-4,2.6],[0.82,5,3.0],[0.86,-6,2.8],[0.90,3,3.2],[0.94,-2,3.0],[0.98,6,3.4],[1.02,-6,3.2],[1.06,1,3.6],
  [1.17,-2,4],[1.26,4,6],[1.40,-3,4],[1.52,2,6],[1.60,-5,4],[1.74,3,5],[1.87,-1,6],[1.95,-8,8],[2.03,-4,5],[2.21,-10,9],[2.47,5,13],
];

const icsTicks = [-4, -3, -2, -1, 0, 1, 2];
const labaIcsTicks = [-3, -2, -1, 0, 1, 2, 3];
const labaLamaTicks = [-4, -2, 0, 2, 4];
const tripleTicks = [-2, 0, 2, 4];

const panels = [
  { title: 'ICS', titleW: 50, treated: icsTreated, control: icsControl, ticks: icsTicks, left: 9, top: 6.5, bottom: 336, domain: [-4.051, 3.102] },
  { title: 'LABA+ICS', titleW: 157, treated: labaIcsTreated, control: labaIcsControl, ticks: labaIcsTicks, left: 6.5, top: 398.5, bottom: 726, domain: [-3.885, 3.51] },
  { title: 'LABA+LAMA', titleW: 204, treated: labaLamaTreated, control: labaLamaControl, ticks: labaLamaTicks, left: 8.7, top: 788.5, bottom: 1115, domain: [-5.739, 5.406] },
  { title: 'Triple', titleW: 91, treated: tripleTreated, control: tripleControl, ticks: tripleTicks, left: 7.4, top: 1179, bottom: 1507.5, domain: [-3.671, 5.264] },
];

const RIGHT = 695;
const AXIS_H = 45;

const ring = (props: any) => {
  const r = Math.max(0.55, 3.2 * Math.sqrt(props.payload.w));
  return <circle cx={props.cx} cy={props.cy} r={r} fill="none" stroke="#000" strokeWidth={1.15} />;
};

const rowLabel = (text: string, width: number) => (props: any) => (
  <text
    x={props.cx - width / 2}
    y={props.cy + 4.5}
    textLength={width}
    lengthAdjust="spacingAndGlyphs"
    fontSize={12.5}
    fontFamily="'Liberation Sans Narrow', 'Liberation Sans', Arial, sans-serif"
    fill="#111"
  >
    {text}
  </text>
);

function Panel({ p }: { p: typeof panels[number] }) {
  const plotW = RIGHT - p.left;
  const plotH = p.bottom - p.top;
  const treated = p.treated.map(([x, j]) => ({ x, y: 1 + j / 100, w: 1 }));
  const control = p.control.map(([x, j, w]) => ({ x, y: j / 100, w }));
  const xs = [...p.treated, ...p.control].map((d) => d[0]);
  const mid = (Math.min(...xs) + Math.max(...xs)) / 2;

  return (
    <div style={{ position: 'absolute', left: p.left, top: p.top }}>
      <ScatterChart width={plotW} height={plotH + AXIS_H} margin={{ top: 0, right: 0, bottom: 0, left: 0 }}>
        <XAxis
          type="number"
          dataKey="x"
          domain={p.domain}
          allowDataOverflow
          ticks={p.ticks}
          interval={0}
          height={AXIS_H}
          axisLine={false}
          tickLine={{ stroke: '#333', strokeWidth: 1.3 }}
          tickSize={8}
          tickMargin={12}
          tick={{ fontSize: 14, fill: '#111', fontFamily: "'Liberation Sans', Arial, sans-serif" }}
        />
        <YAxis type="number" dataKey="y" domain={[-1.66, 2.66]} allowDataOverflow hide />
        <ReferenceDot x={mid} y={1.5} r={0} shape={rowLabel('Matched Treatment Units', 157)} />
        <ReferenceDot x={mid} y={0.5} r={0} shape={rowLabel('Matched Control Units', 139)} />
        <Scatter data={treated} shape={ring} isAnimationActive={false} />
        <Scatter data={control} shape={ring} isAnimationActive={false} />
      </ScatterChart>
      <div
        style={{
          position: 'absolute', left: 0, top: 0, width: plotW, height: plotH,
          border: '1.5px solid #333', boxSizing: 'border-box', pointerEvents: 'none',
        }}
      />
    </div>
  );
}

export default function App() {
  return (
    <div style={{ position: 'absolute', left: 0, top: 0, width: 680, height: 1590, overflow: 'hidden', background: '#fff' }}>
      {panels.map((p) => (
        <Panel key={p.title} p={p} />
      ))}
      <svg width={680} height={1590} style={{ position: 'absolute', left: 0, top: 0, pointerEvents: 'none' }}>
        {panels.map((p) => (
          <text
            key={p.title}
            x={29}
            y={p.top + 50}
            textLength={p.titleW}
            lengthAdjust="spacingAndGlyphs"
            fontSize={36}
            fontFamily="Lato, 'Open Sans', sans-serif"
            fill="#111"
          >
            {p.title}
          </text>
        ))}
        <text
          x={237}
          y={1582}
          textLength={239}
          lengthAdjust="spacingAndGlyphs"
          fontSize={30}
          fontFamily="Lato, 'Open Sans', sans-serif"
          fill="#111"
        >
          Propensity Score
        </text>
      </svg>
    </div>
  );
}
